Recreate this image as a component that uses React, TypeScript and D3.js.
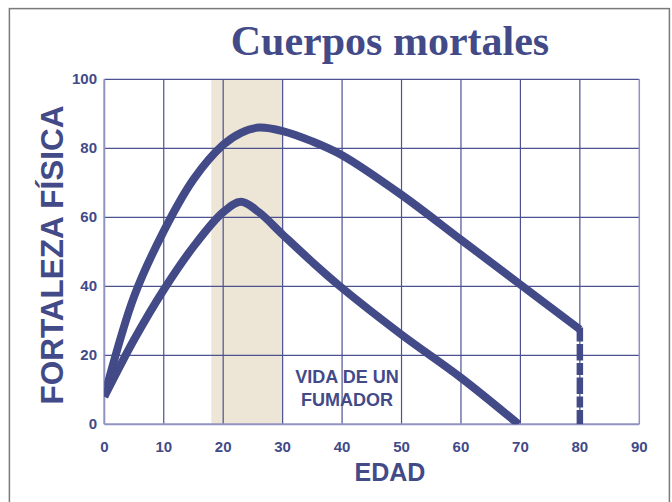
import React from "react";
import * as d3 from "d3";

const W = 672;
const H = 502;

const title = "Cuerpos mortales";
const xTitle = "EDAD";
const yTitle = "FORTALEZA FÍSICA";
const note = ["VIDA DE UN", "FUMADOR"];

const xTicks = [0, 10, 20, 30, 40, 50, 60, 70, 80, 90];
const yTicks = [0, 20, 40, 60, 80, 100];

const upperAges = [0, 5, 10, 15, 20, 23, 26, 30, 35, 40, 50, 60, 70, 80];
const upperValues = [8, 37, 56, 71, 81, 84.5, 86, 85, 82, 78, 66.5, 53.5, 40.5, 27.5];

const lowerAges = [0, 5, 10, 15, 20, 23, 26, 30, 35, 40, 50, 60, 69.7];
const lowerValues = [8, 24.5, 39, 51.5, 61.5, 64.5, 61.5, 55, 47, 39.5, 26, 13.5, 0];

const bandStart = 18;
const bandEnd = 30;
const deathAge = 80;

const NAVY = "#434a88";
const GRID = "#4c5190";
const AXIS = "#9092c0";
const SANS = "'Liberation Sans', Arial, Helvetica, sans-serif";

export default function App() {
  const x = d3.scaleLinear().domain([0, 90]).range([104.3, 639.3]);
  const y = d3.scaleLinear().domain([0, 100]).range([424.3, 79.3]);

  const line = d3
    .line<[number, number]>()
    .x((d) => x(d[0]))
    .y((d) => y(d[1]))
    .curve(d3.curveCatmullRom.alpha(0.5));

  const upper = upperAges.map((a, i) => [a, upperValues[i]] as [number, number]);
  const lower = lowerAges.map((a, i) => [a, lowerValues[i]] as [number, number]);
  const endValue = upperValues[upperValues.length - 1];

  return (
    <svg
      width={W}
      height={H}
      style={{ position: "absolute", left: 0, top: 0, background: "#fff" }}
    >
      <defs>
        <clipPath id="plot">
          <rect x={x(0)} y={y(100) - 10} width={x(90) - x(0)} height={y(0) - y(100) + 10} />
        </clipPath>
      </defs>
      <rect x={9.4} y={8.6} width={660} height={520} fill="none" stroke="#7a7a7a" strokeWidth={1.5} />

      <text
        x={390}
        y={55}
        textAnchor="middle"
        fontFamily="'Liberation Serif', 'Times New Roman', serif"
        fontWeight="bold"
        fontSize={42}
        fill={NAVY}
      >
        {title}
      </text>

      <rect
        x={x(bandStart)}
        y={y(100)}
        width={x(bandEnd) - x(bandStart)}
        height={y(0) - y(100)}
        fill="#ede6d6"
      />

      {xTicks.slice(1, -1).map((t) => (
        <line key={"gx" + t} x1={x(t)} x2={x(t)} y1={y(0)} y2={y(100)} stroke={GRID} strokeWidth={1.2} />
      ))}
      {yTicks.slice(1).map((t) => (
        <line key={"gy" + t} x1={x(0)} x2={x(90)} y1={y(t)} y2={y(t)} stroke={GRID} strokeWidth={1.2} />
      ))}
      <line x1={x(90)} x2={x(90)} y1={y(0)} y2={y(100)} stroke={AXIS} strokeWidth={1.5} />
      <line x1={x(0)} x2={x(0)} y1={y(0)} y2={y(100)} stroke={AXIS} strokeWidth={2} />
      <line x1={x(0)} x2={x(90)} y1={y(0)} y2={y(0)} stroke={AXIS} strokeWidth={2} />

      <g clipPath="url(#plot)">
        <path d={line(upper) || ""} fill="none" stroke={NAVY} strokeWidth={8} strokeLinejoin="round" />
        <path d={line(lower) || ""} fill="none" stroke={NAVY} strokeWidth={8} strokeLinejoin="round" />
        <line
          x1={x(deathAge)}
          x2={x(deathAge)}
          y1={y(endValue) - 2}
          y2={y(0)}
          stroke={NAVY}
          strokeWidth={6.5}
          strokeDasharray="14,2.5,16.5,2.5,12,2.5,16.5,2.5,11,2.5,20"
        />
      </g>

      {xTicks.map((t) => (
        <text
          key={"tx" + t}
          x={x(t)}
          y={451.5}
          textAnchor="middle"
          fontFamily={SANS}
          fontWeight="bold"
          fontSize={15}
          fill={NAVY}
        >
          {t}
        </text>
      ))}
      {yTicks.map((t) => (
        <text
          key={"ty" + t}
          x={97}
          y={y(t) + 5}
          textAnchor="end"
          fontFamily={SANS}
          fontWeight="bold"
          fontSize={15}
          fill={NAVY}
        >
          {t}
        </text>
      ))}

      <text
        x={390}
        y={481}
        textAnchor="middle"
        fontFamily={SANS}
        fontWeight="bold"
        fontSize={25}
        fill={NAVY}
      >
        {xTitle}
      </text>
      <text
        transform={`translate(63,255) rotate(-90)`}
        textAnchor="middle"
        fontFamily={SANS}
        fontWeight="bold"
        fontSize={31.5}
        fill={NAVY}
      >
        {yTitle}
      </text>

      {note.map((s, i) => (
        <text
          key={s}
          x={347}
          y={383 + i * 23}
          textAnchor="middle"
          fontFamily={SANS}
          fontWeight="bold"
          fontSize={18}
          fill={NAVY}
        >
          {s}
        </text>
      ))}
    </svg>
  );
}
